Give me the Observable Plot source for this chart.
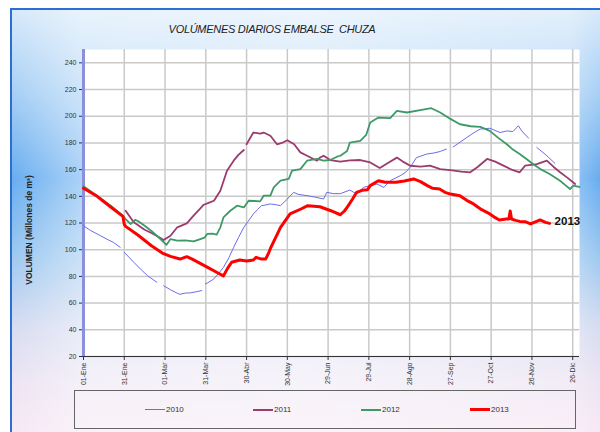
<!DOCTYPE html>
<html><head><meta charset="utf-8">
<script src="https://cdn.jsdelivr.net/npm/d3@7"></script>
<script src="https://cdn.jsdelivr.net/npm/@observablehq/plot@0.6"></script>
<style>
html,body{margin:0;padding:0;background:#fff;}
#wrap{position:relative;width:600px;height:432px;overflow:hidden;font-family:"Liberation Sans",Arial,sans-serif;}
#bg{position:absolute;left:10px;top:8px;width:590px;height:424px;border-top:2px solid #2b6fd3;border-left:2px solid #2b6fd3;box-sizing:border-box;
background: linear-gradient(to right, rgba(255,255,255,0) 0%, rgba(255,255,255,0.45) 12%, rgba(255,255,255,0.55) 50%, rgba(255,255,255,0.3) 95%, rgba(255,255,255,0) 100%), linear-gradient(to bottom,#d7e9fa 0%, #a6cff5 20%, #68adf0 40%, #9cc8f0 58%, #d6dcf1 75%, #ece4f3 88%, #f7e8f4 100%);}
#chart{position:absolute;left:0;top:0;}
#title{position:absolute;left:72px;width:400px;top:23px;text-align:center;font-style:italic;font-size:11px;letter-spacing:-0.3px;color:#222;white-space:pre;}
#ylab{position:absolute;left:28.5px;top:230px;transform:translate(-50%,-50%) rotate(-90deg);font-weight:bold;font-size:8.5px;color:#222;white-space:nowrap;}
#legend{position:absolute;left:74px;top:390px;width:502px;height:39px;border:1px solid #666;box-sizing:border-box;}
.li{position:absolute;top:14px;font-size:8px;color:#333;line-height:10px;}
.li span.sw{display:inline-block;width:20px;vertical-align:middle;margin-right:1px;}
</style></head>
<body>
<div id="wrap">
  <div id="bg"></div>
  <div id="title"></div>
  <div id="chart"></div>
  <div id="ylab"></div>
  <div id="legend"></div>
</div>
<script>
const titleText = "VOLÚMENES DIARIOS EMBALSE  CHUZA";
const yTitle = "VOLUMEN (Millones de m³)";
const xTickDays = [0,30,60,90,120,150,180,210,240,270,300,330,360];
const xTickLabels = ["01-Ene","31-Ene","01-Mar","31-Mar","30-Abr","30-May","29-Jun","29-Jul","28-Ago","27-Sep","27-Oct","26-Nov","26-Dic"];
const yTicks = [20,40,60,80,100,120,140,160,180,200,220,240];
const seriesNames = ["2010","2011","2012","2013"];
const seriesColors = ["#6b6bea","#9b3b6e","#3d9a68","#ff0000"];
const seriesWidths = [1,1.8,1.8,3];
const legendWidths = [1,2,2,3];

// [day of year, volume]; null = gap
const s2010 = [[0,118],[5,114.5],[12.5,110.5],[18,107.5],[22,105.5],[27,101.8],[28,null],[30,98],[37,90.6],[42,85.5],[47,80.6],[54,75.6],[56,null],[59,73],[64,70],[69,67.4],[71,66.6],[75,67.5],[78.7,67.7],[83,68.5],[87,69.4],[88,null],[89.7,74.4],[91,75],[95.8,78],[100,83],[103,86.8],[107,94],[110.5,101.8],[114,109],[118,116.8],[121,121],[125,126.8],[128,130],[131,133],[134,133.5],[137.5,134.3],[141,133.8],[145,133],[150,138],[154.6,143],[158,141.5],[164.5,140.5],[170,139.5],[176.7,138],[179,143],[184,142],[189,142],[196,144.7],[201,141.7],[206,146.7],[211,148],[216,149.2],[221,146.7],[225.7,151.7],[233,155.4],[237,158],[240.4,161.7],[245,169],[252.7,171.7],[258,172.5],[262.5,173.6],[267,175.4],[268,null],[272,177],[277,180.5],[282,184],[287,187.5],[292,190.4],[299,191],[306.6,187.8],[311.5,189],[316,188.5],[320,192.9],[322.5,189],[327.5,183.6],[328,null],[333.6,176.6],[341,170.4],[347,164.6]];
const s2011 = [[31,129.2],[37,120.5],[45,115],[50,112.5],[56.6,108.8],[59,107.3],[64,110.5],[69,116.8],[76,119.7],[81,125.5],[86,131],[88.5,133.7],[93,135.5],[96,136.7],[100.7,144.2],[105.6,159.2],[110.5,166.7],[114,171],[118,174.7],[119,null],[120,179],[125,187.8],[130,187],[132.6,187.8],[137.5,185.4],[142.4,179],[146,180],[150,182],[155,179],[159.6,172.9],[164.5,170.4],[171.8,166.7],[174,169],[176.7,170.4],[181.6,167.2],[189,166],[196,167],[203.7,167.2],[211,165.4],[218,161.2],[224,165],[230.6,169],[235,166],[240.4,162.9],[248,162.2],[255,163],[262.5,160.4],[270,159.7],[278,158.5],[284.6,158],[290,162],[297,168],[303,166],[309,163],[315,160],[321,158],[325,163],[333.6,164.2],[341,166.7],[346,162],[350.7,158],[356,154],[361.8,149.2]];
const s2012 = [[0,147.5],[10,140.5],[20,133],[29,125.5],[31,123],[34.6,119.3],[38,122.3],[40,121.5],[45,118],[50,114],[56.6,108],[61,103.6],[64,108],[69,106.8],[75,107],[81,106.3],[86,108],[89,109],[91,111.8],[95,112],[98,111.3],[100.7,116.8],[103,124.2],[108,129.2],[113,133],[118,131.7],[121.5,136.7],[126,136.5],[130,136.2],[132.6,140.5],[137.5,140.5],[140,146.7],[145,151.7],[151,153],[153.5,159.2],[159.6,160.4],[164.5,166.7],[171.8,168],[176.7,166.7],[181.6,167.2],[186.5,169.7],[189,170.4],[194,174],[196,180.3],[203.7,181.6],[208,186],[211,195.3],[217,199],[225.7,198.6],[230.6,204],[238,202.8],[247.8,204.6],[256,206],[262.5,202.8],[270,198],[277,194],[285,192.5],[292,192],[299,189],[305,184],[311.5,179],[316,175],[321,171.7],[326,168],[331,164],[337,160],[343,156.7],[350.7,151.7],[355,148],[358,145.5],[360.5,148],[363,147.5],[365,147]];
const s2013 = [[0,146],[10,140],[20,132],[29,125],[30,119],[31,117.5],[40,111],[50,103],[58,97.5],[64,95],[71,93],[76,94.8],[80,93],[90,87.5],[100,82],[103,80.4],[106,86],[109,90.6],[115,92.3],[120,91.5],[125,92.3],[127,94.3],[131,93],[134,93],[136,97],[138,102],[145,116.8],[152,126.8],[160,130.5],[165,133],[174,132.2],[182,129.2],[189,126.2],[192,129],[194,131.7],[198,138],[201,143],[205,144.5],[209,145],[211,148],[217,151.7],[222,150.5],[230,150.5],[236,151.5],[243,153],[248,151],[253,148],[257,146],[262,145.5],[266,143],[270,141.7],[277,140.5],[282,137],[287,134.3],[293,130],[299,126.8],[303,124],[306,122.3],[311,123],[313,123],[314,129],[315,123],[318,122],[321,121.2],[325,121],[329,119.3],[333,121],[336,122.3],[340,120.5],[343,119.7]];
const allSeries = [s2010, s2011, s2012, s2013];

document.getElementById("title").textContent = titleText;
document.getElementById("ylab").textContent = yTitle;

const lineMarks = allSeries.map((s, i) => Plot.line(s, {
  x: d => d[0], y: d => d[1],
  stroke: seriesColors[i], strokeWidth: seriesWidths[i],
  strokeLinejoin: "round", strokeLinecap: "round"
}));
const last2013 = s2013[s2013.length - 1];

const chart = Plot.plot({
  width: 600, height: 390,
  marginLeft: 83, marginRight: 21, marginTop: 49, marginBottom: 34,
  x: {domain: [0, 365]},
  y: {domain: [20, 250]},
  style: {background: "transparent", fontFamily: "'Liberation Sans', Arial, sans-serif", fontSize: "7px", color: "#333"},
  marks: [
    Plot.frame({fill: "white", stroke: null}),
    Plot.gridX({ticks: xTickDays, stroke: "#c9c9c9", strokeOpacity: 1, strokeWidth: 1.5}),
    Plot.gridY({ticks: yTicks, stroke: "#c9c9c9", strokeOpacity: 1, strokeWidth: 1.5}),
    Plot.axisY({ticks: yTicks, tickSize: 4, tickPadding: 3, stroke: "#1d2b80", label: null, fill: "#333"}),
    Plot.axisX({ticks: xTickDays, tickSize: 4, tickPadding: 2, tickRotate: -90, stroke: "#333", label: null, fill: "#333",
      tickFormat: d => xTickLabels[xTickDays.indexOf(d)]}),
    Plot.ruleX([0], {stroke: "#8b90da", strokeWidth: 3}),
    Plot.ruleY([20], {stroke: "#333", strokeWidth: 1}),
    ...lineMarks,
    Plot.text([last2013], {x: d => d[0], y: d => d[1], text: () => seriesNames[3], dx: 5, dy: -2,
      textAnchor: "start", fontSize: 11.5, fontWeight: "bold", fill: "#111"})
  ]
});
document.getElementById("chart").appendChild(chart);

const legend = document.getElementById("legend");
const legendX = [70, 178, 286, 395];
seriesNames.forEach((n, i) => {
  const d = document.createElement("div");
  d.className = "li";
  d.style.left = legendX[i] + "px";
  const sw = document.createElement("span");
  sw.className = "sw";
  sw.style.borderTop = legendWidths[i] + "px solid " + seriesColors[i];
  d.appendChild(sw);
  d.appendChild(document.createTextNode(n));
  legend.appendChild(d);
});
</script>
</body></html>
